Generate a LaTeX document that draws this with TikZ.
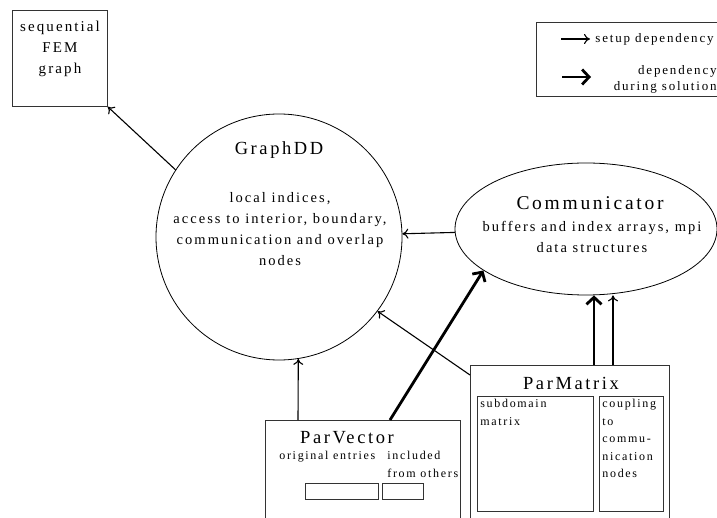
\documentclass[tikz,border=0pt]{standalone}
\usepackage{fontspec}
\setmainfont{Liberation Serif}[LetterSpace=14]
\usetikzlibrary{arrows.meta, shapes.geometric, positioning}

\begin{document}
\begin{tikzpicture}[x=1pt, y=-1pt, line width=0.8pt,
    box/.style={rectangle, draw=black!80, inner sep=0pt},
    title/.style={font=\fontsize{18.5}{21}\selectfont},
    body/.style={font=\fontsize{14.5}{21}\selectfont, align=center},
    small/.style={font=\fontsize{12}{17.5}\selectfont, align=left, inner sep=3pt},
    setup/.style={-{To[length=6pt,width=10pt]}, line width=1.1pt},
    solve/.style={-{Straight Barb[length=7pt,width=15pt]}, line width=2.8pt}
]
\clip (0,0) rectangle (717,518);

% Sequential graph and legend
\node[box, minimum width=95, minimum height=96, anchor=north west] (seq) at (12,10) {};
\node[body, anchor=north, font=\fontsize{15}{21}\selectfont] (seqtext) at (60,17) {sequential\\FEM\\graph};

\node[box, minimum width=190, minimum height=74, anchor=north west] (legend) at (536,22) {};
\coordinate (s0) at (561,39);
\coordinate (s1) at (590,39);
\draw[setup] (s0) -- (s1);
\node[small, anchor=west, font=\fontsize{13}{17}\selectfont] (setuptext) at (592,39) {setup dependency};
\coordinate (d0) at (562,77);
\coordinate (d1) at (591,77);
\draw[solve] (d0) -- (d1);
\node[small, align=right, anchor=east, font=\fontsize{13}{16}\selectfont] (solvetext) at (720,79) {dependency\\during solution};

% GraphDD and Communicator
\node[circle, draw, minimum size=246, inner sep=0pt] (graph) at (279,237) {};
\node[title] (graphtitle) at (279,150) {GraphDD};
\node[body] (graphtext) at (280,229) {local indices,\\access to interior, boundary,\\communication and overlap\\nodes};

\node[ellipse, draw, minimum width=262, minimum height=132, inner sep=0pt] (comm) at (586,229) {};
\node[title, font=\fontsize{19.5}{21}\selectfont] (commtitle) at (590,203) {Communicator};
\node[body] (commtext) at (592,237) {buffers and index arrays, mpi\\data structures};

% ParVector
\node[box, minimum width=195, minimum height=110, anchor=north west] (pvec) at (265,420) {};
\node[title] (pvectitle) at (347,438) {ParVector};
\node[small, anchor=west] (origtext) at (276,457) {original entries};
\node[small, anchor=north west] (incltext) at (384,448) {included\\from others};
\node[box, minimum width=73, minimum height=16, anchor=north west] (orig) at (305,483) {};
\node[box, minimum width=41, minimum height=16, anchor=north west] (incl) at (382,483) {};

% ParMatrix
\node[box, minimum width=199, minimum height=160, anchor=north west] (pmat) at (470,365) {};
\node[title] (pmattitle) at (571,383) {ParMatrix};
\node[box, minimum width=116, minimum height=115, anchor=north west] (subdom) at (477,396) {};
\node[box, minimum width=64, minimum height=115, anchor=north west] (coupl) at (599,396) {};
\node[small, anchor=north west] (subdomtext) at (subdom.north west) {subdomain\\matrix};
\node[small, anchor=north west] (coupltext) at (coupl.north west) {coupling\\to\\commu-\\nication\\nodes};

% Dependencies
\draw[setup] (graph.147) -- (seq.south east);
\draw[setup] (comm) -- (graph);
\draw[setup] ([xshift=33pt]pvec.north west) -- (graph.-81);
\draw[solve] ([xshift=125pt]pvec.north west) -- (comm.202);
\draw[setup] ([yshift=-10pt]pmat.north west) -- (graph.-37);
\draw[solve] ([xshift=124pt]pmat.north west) -- ([xshift=8pt]comm.south);
\draw[setup] ([xshift=143pt]pmat.north west) -- ([xshift=27pt]comm.south);
\end{tikzpicture}
\end{document}
